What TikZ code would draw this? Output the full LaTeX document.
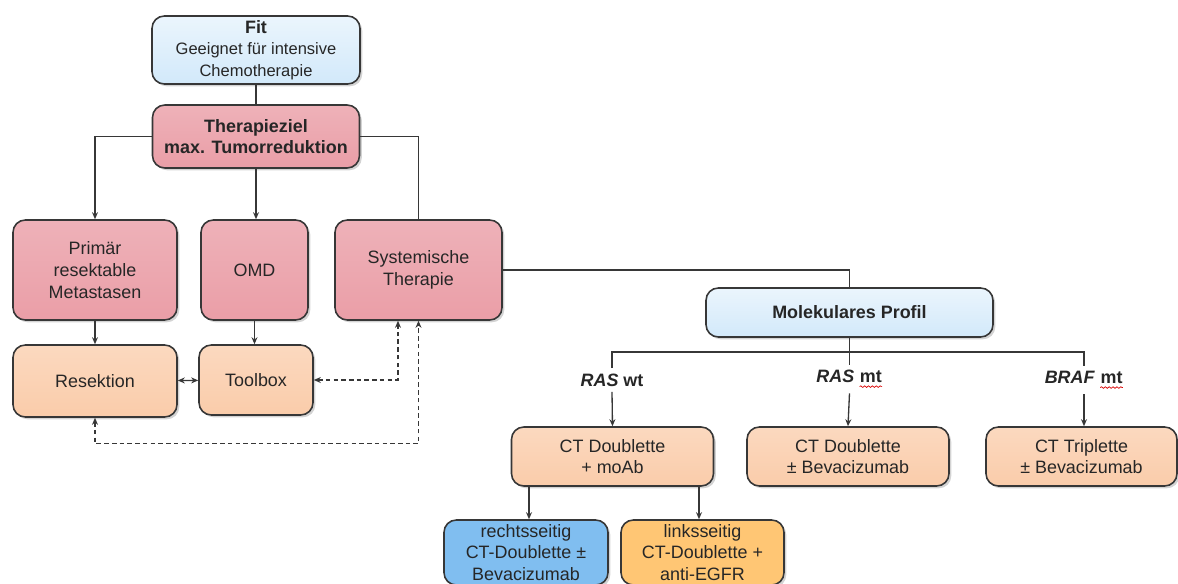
\documentclass[tikz,border=0pt]{standalone}
\usepackage{fontspec}
\setmainfont{Liberation Sans}
\usetikzlibrary{arrows.meta,shadows,decorations.pathmorphing}

\definecolor{liniengrau}{RGB}{55,55,55}
\definecolor{textgrau}{RGB}{38,38,38}
\definecolor{fitblau}{RGB}{210,233,250}
\definecolor{zielrot}{RGB}{234,158,167}
\definecolor{apricot}{RGB}{250,204,170}
\definecolor{rechtsblau}{RGB}{128,190,240}
\definecolor{linksorange}{RGB}{255,198,116}

% rote Wellenlinie unter einem Wort
\newcommand{\wellig}[1]{\tikz[baseline=(w.base)]{\node[inner sep=0pt] (w) {#1};
  \draw[red!85!black, line width=0.4pt, decorate,
        decoration={snake, amplitude=0.45pt, segment length=2.2pt}]
    ([yshift=-2.2pt]w.base west) -- ([yshift=-2.2pt]w.base east);}}
\newcommand{\klein}{\fontsize{9.4}{11.4}\selectfont}

\begin{document}
\begin{tikzpicture}[x=0.02cm, y=-0.02cm,
      font=\fontsize{10.2}{12.4}\selectfont, text=textgrau,
      kasten/.style = {shape=rectangle, rounded corners=7pt,
        draw=liniengrau, line width=0.9pt, align=center, inner sep=1pt,
        drop shadow={shadow xshift=1.3pt, shadow yshift=-1.3pt, opacity=0.35}},
      blaukasten/.style = {kasten, top color=fitblau!45!white, bottom color=fitblau},
      rotkasten/.style = {kasten, top color=zielrot!80!white, bottom color=zielrot},
      apricotkasten/.style = {kasten, top color=apricot!75!white, bottom color=apricot},
      marke/.style = {inner sep=3pt, font=\fontsize{10.2}{12.4}\selectfont\bfseries},
      linie/.style = {draw=liniengrau, line width=0.75pt},
      pfeil/.style = {linie, -{Stealth[length=4pt, width=3.4pt]}},
      doppelpfeil/.style = {linie, {Stealth[length=4pt, width=3.4pt]}-{Stealth[length=4pt, width=3.4pt]}},
      strichpfeil/.style = {doppelpfeil, dash pattern=on 2.6pt off 1.8pt}]
  \useasboundingbox (0,0) rectangle (1178,583);

  % obere Ebene
  \node[blaukasten, minimum width=4.16cm, minimum height=1.36cm] (fit) at (256,50)
    {\textbf{Fit}\\\klein Geeignet für intensive\\\klein Chemotherapie};
  \node[rotkasten, minimum width=4.14cm, minimum height=1.26cm] (ziel) at (256,136.5)
    {\textbf{Therapieziel}\\\textbf{max. Tumorreduktion}};

  % zweite Ebene
  \node[rotkasten, minimum width=3.28cm, minimum height=2cm] (prim) at (95,270)
    {Primär\\resektable\\Metastasen};
  \node[rotkasten, minimum width=2.14cm, minimum height=2cm] (omd) at (254.5,270) {OMD};
  \node[rotkasten, minimum width=3.34cm, minimum height=2cm] (sys) at (418.5,270)
    {Systemische\\Therapie};

  \node[apricotkasten, minimum width=3.28cm, minimum height=1.44cm] (res) at (95,381) {Resektion};
  \node[apricotkasten, minimum width=2.28cm, minimum height=1.4cm] (tool) at (256,380) {Toolbox};

  % molekulare Verzweigung
  \node[blaukasten, minimum width=5.74cm, minimum height=0.98cm] (mol) at (849.5,312.5)
    {\textbf{Molekulares Profil}};

  \node[marke] (lwt) at (612,380) {\textit{RAS} wt};
  \node[marke] (lmt) at (849.5,379) {\textit{RAS} \wellig{mt}};
  \node[marke] (lbraf) at (1084,380) {\textit{BRAF} \wellig{mt}};

  \node[apricotkasten, minimum width=4.04cm, minimum height=1.18cm] (ct1) at (612.5,456.5)
    {CT Doublette\\+ moAb};
  \node[apricotkasten, minimum width=4.04cm, minimum height=1.18cm] (ct2) at (848,456.5)
    {CT Doublette\\± Bevacizumab};
  \node[apricotkasten, minimum width=3.82cm, minimum height=1.18cm] (ct3) at (1081.5,456.5)
    {CT Triplette\\± Bevacizumab};

  \node[kasten, fill=rechtsblau, minimum width=3.28cm, minimum height=1.3cm] (rechts) at (526,552.5)
    {rechtsseitig\\CT-Doublette ±\\Bevacizumab};
  \node[kasten, fill=linksorange, minimum width=3.26cm, minimum height=1.3cm] (links) at (702.5,552.5)
    {linksseitig\\CT-Doublette +\\anti-EGFR};

  % Verbindungen
  \draw[linie] (fit) -- (ziel);
  \draw[pfeil] (ziel.west) -| (prim.north);
  \draw[pfeil] (ziel.south) -- (ziel.south |- omd.north);
  \draw[linie] (ziel.east) -| (sys.north);
  \draw[linie] (sys.east) -| (mol.north);

  \draw[pfeil] (prim) -- (res);
  \draw[pfeil] (omd.south) -- (omd.south |- tool.north);
  \draw[doppelpfeil] (res) -- (tool);
  \draw[strichpfeil] (tool.east) -| ([xshift=-0.41cm]sys.south);
  \draw[strichpfeil] (res.south) -- ++(0,26) -| (sys.south);

  \coordinate (bus) at (849.5,352);
  \draw[linie] (mol.south) -- (lmt.north);
  \draw[linie] (lwt.north) |- (bus) -| (lbraf.north);
  \draw[pfeil] (lwt.south) -- (ct1.north);
  \draw[pfeil] (lmt.south) -- (ct2.north);
  \draw[pfeil] (lbraf.south) -- (lbraf.south |- ct3.north);

  \coordinate (abzweigR) at (529,487);
  \coordinate (abzweigL) at (699,487);
  \draw[pfeil] (abzweigR) -- (abzweigR |- rechts.north);
  \draw[pfeil] (abzweigL) -- (abzweigL |- links.north);
\end{tikzpicture}
\end{document}
